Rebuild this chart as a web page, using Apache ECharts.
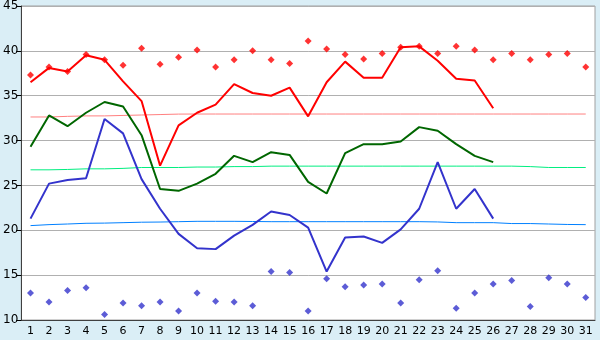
<!DOCTYPE html>
<html>
<head>
<meta charset="utf-8">
<script src="https://cdn.jsdelivr.net/npm/echarts@6/dist/echarts.min.js"></script>
<style>
  html, body { margin: 0; padding: 0; background: #daeef6; }
  #chart { width: 600px; height: 340px; }
</style>
</head>
<body>
<div id="chart"></div>
<script>
const days = Array.from({ length: 31 }, (_, i) => String(i + 1));

// daily maximum / mean / minimum (days 1..26)
const maxTemp = [36.5, 38.1, 37.7, 39.5, 39.0, 36.6, 34.4, 27.2, 31.7, 33.1, 34.0, 36.3, 35.3, 35.0, 35.9, 32.7, 36.5, 38.8, 37.0, 37.0, 40.4, 40.5, 38.9, 36.9, 36.7, 33.6];
const meanTemp = [29.3, 32.8, 31.6, 33.1, 34.3, 33.8, 30.6, 24.6, 24.4, 25.2, 26.3, 28.3, 27.6, 28.7, 28.4, 25.4, 24.1, 28.6, 29.6, 29.6, 29.9, 31.5, 31.1, 29.6, 28.3, 27.6];
const minTemp = [21.3, 25.2, 25.6, 25.8, 32.4, 30.8, 25.7, 22.4, 19.6, 18.0, 17.9, 19.4, 20.6, 22.1, 21.7, 20.3, 15.4, 19.2, 19.3, 18.6, 20.1, 22.4, 27.6, 22.4, 24.6, 21.3];

// record values (days 1..31)
const recordHigh = [37.3, 38.2, 37.7, 39.6, 39.0, 38.4, 40.3, 38.5, 39.3, 40.1, 38.2, 39.0, 40.0, 39.0, 38.6, 41.1, 40.2, 39.6, 39.1, 39.7, 40.4, 40.5, 39.7, 40.5, 40.1, 39.0, 39.7, 39.0, 39.6, 39.7, 38.2];
const recordLow = [13.0, 12.0, 13.3, 13.6, 10.6, 11.9, 11.6, 12.0, 11.0, 13.0, 12.1, 12.0, 11.6, 15.4, 15.3, 11.0, 14.6, 13.7, 13.9, 14.0, 11.9, 14.5, 15.5, 11.3, 13.0, 14.0, 14.4, 11.5, 14.7, 14.0, 12.5];

// normals (days 1..31)
const normalMax = [32.63, 32.63, 32.7, 32.75, 32.75, 32.8, 32.85, 32.9, 32.95, 32.96, 32.96, 32.96, 32.96, 32.96, 32.96, 32.96, 32.96, 32.96, 32.96, 32.96, 32.96, 32.96, 32.96, 32.96, 32.96, 32.96, 32.96, 32.96, 32.96, 32.96, 32.96];
const normalMean = [26.74, 26.74, 26.78, 26.85, 26.85, 26.9, 27.0, 27.0, 27.0, 27.05, 27.05, 27.1, 27.1, 27.15, 27.15, 27.15, 27.15, 27.15, 27.15, 27.15, 27.15, 27.15, 27.15, 27.15, 27.15, 27.15, 27.15, 27.1, 27.0, 27.0, 27.0];
const normalMin = [20.52, 20.63, 20.7, 20.78, 20.8, 20.85, 20.9, 20.92, 20.96, 21.0, 21.0, 21.0, 20.98, 20.96, 20.96, 20.96, 20.96, 20.96, 20.96, 20.96, 20.96, 20.96, 20.93, 20.85, 20.85, 20.85, 20.75, 20.75, 20.7, 20.65, 20.63];

const chart = echarts.init(document.getElementById('chart'));

const lineSeries = (data, color, width) => ({
    type: 'line',
    data: data,
    symbol: 'none',
    animation: false,
    lineStyle: { color: color, width: width },
    z: width > 1 ? 3 : 2
});

const dotSeries = (data, color) => ({
    type: 'scatter',
    data: data,
    symbol: 'diamond',
    symbolSize: 7,
    animation: false,
    itemStyle: { color: color },
    z: 4
});

chart.setOption({
    backgroundColor: '#daeef6',
    textStyle: { fontFamily: 'DejaVu Sans' },
    grid: {
        left: 21, right: 5, top: 5, bottom: 20,
        show: true,
        backgroundColor: '#ffffff',
        borderColor: '#a0a0a0',
        borderWidth: 1
    },
    xAxis: {
        type: 'category',
        data: days,
        boundaryGap: true,
        axisLine: { lineStyle: { color: '#404040' } },
        axisTick: { alignWithLabel: true, length: 5, lineStyle: { color: '#000' } },
        axisLabel: { color: '#000', fontSize: 11, margin: 6, interval: 0 },
        splitLine: { show: false }
    },
    yAxis: {
        type: 'value',
        min: 10, max: 45, interval: 5,
        axisLine: { show: true, lineStyle: { color: '#404040' } },
        axisTick: { show: true, length: 5, lineStyle: { color: '#000' } },
        axisLabel: { color: '#000', fontSize: 12, margin: 3 },
        splitLine: { lineStyle: { color: '#b0b0b0', width: 1 } }
    },
    series: [
        lineSeries(normalMax, '#ff8080', 1),
        lineSeries(normalMean, '#00ee80', 1),
        lineSeries(normalMin, '#0080ff', 1),
        lineSeries(maxTemp, '#ff0000', 2),
        lineSeries(meanTemp, '#006600', 2),
        lineSeries(minTemp, '#3333cc', 2),
        dotSeries(recordHigh, '#ff0000'),
        dotSeries(recordLow, '#3333cc')
    ]
});
</script>
</body>
</html>
